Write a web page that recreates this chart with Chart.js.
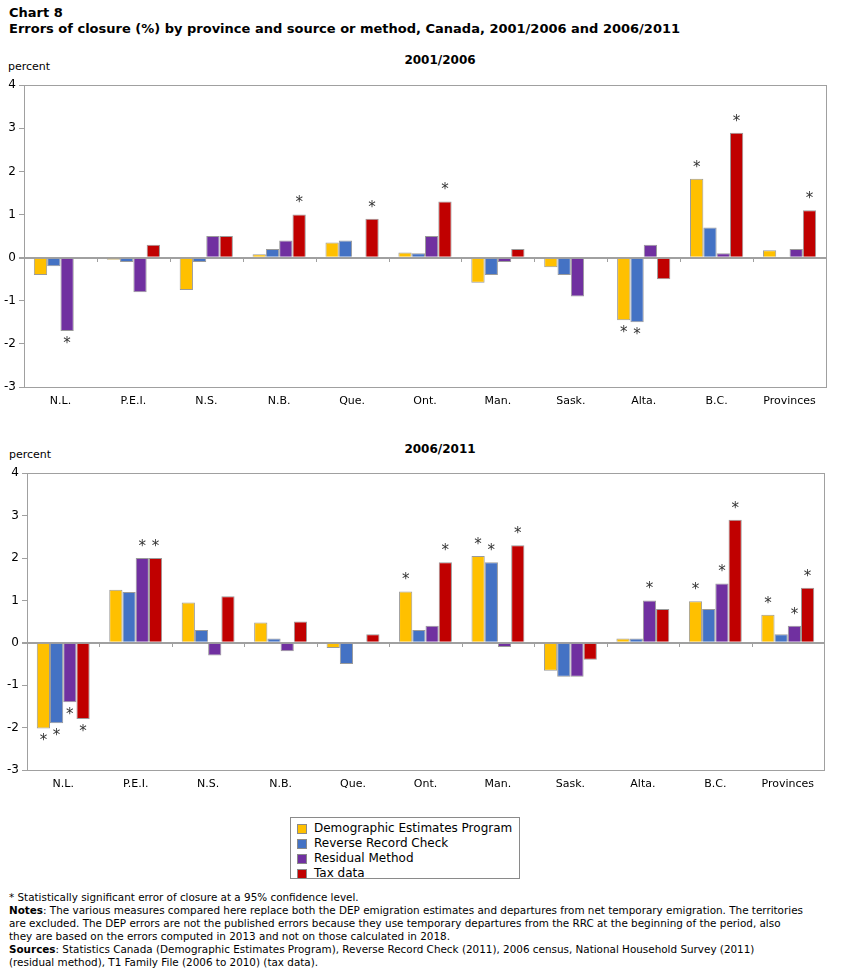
<!DOCTYPE html>
<html>
<head>
<meta charset="utf-8">
<script src="https://cdn.jsdelivr.net/npm/chart.js@4.4.1/dist/chart.umd.min.js"></script>
<style>
  html, body { margin:0; padding:0; background:#fff; }
  body { width:842px; height:968px; position:relative; overflow:hidden; font-family:"DejaVu Sans", Verdana, sans-serif; color:#000; }
  .abs { position:absolute; white-space:nowrap; }
  #title { left:9px; top:5px; font-family:"DejaVu Sans",sans-serif; font-weight:bold; font-size:13px; line-height:16px; }
  .sub { font-weight:bold; font-size:12px; font-family:"DejaVu Sans",sans-serif; transform:translateX(-50%); }
  .pct { font-size:11px; }
  #legend { left:290px; top:817px; width:230px; height:62px; border:1px solid #8a8a8a; box-sizing:border-box; padding:3px 0 0 6px; font-size:12px; }
  #legend .item { height:15px; line-height:15px; display:flex; align-items:center; }
  #legend .sw { width:10px; height:10px; border:1px solid #8a8a8a; box-sizing:border-box; margin-right:7px; }
  #notes { left:9px; top:891px; font-family:"DejaVu Sans", sans-serif; font-size:10.4px; line-height:13px; }
</style>
</head>
<body>
<div id="title" class="abs">Chart 8<br>Errors of closure (%) by province and source or method, Canada, 2001/2006 and 2006/2011</div>
<div class="abs sub" style="left:440px; top:53px;">2001/2006</div>
<div class="abs pct" style="left:8px; top:60px;">percent</div>
<div class="abs" style="left:0; top:75px; width:842px; height:340px;"><canvas id="c1"></canvas></div>
<div class="abs sub" style="left:440px; top:442px;">2006/2011</div>
<div class="abs pct" style="left:9px; top:448px;">percent</div>
<div class="abs" style="left:0; top:463px; width:842px; height:335px;"><canvas id="c2"></canvas></div>
<div id="legend" class="abs"></div>
<div id="notes" class="abs">* Statistically significant error of closure at a 95% confidence level.<br><b>Notes</b>: The various measures compared here replace both the DEP emigration estimates and departures from net temporary emigration. The territories<br>are excluded. The DEP errors are not the published errors because they use temporary departures from the RRC at the beginning of the period, also<br>they are based on the errors computed in 2013 and not on those calculated in 2018.<br><b>Sources</b>: Statistics Canada (Demographic Estimates Program), Reverse Record Check (2011), 2006 census, National Household Survey (2011)<br>(residual method), T1 Family File (2006 to 2010) (tax data).</div>
<script>
const categories = ['N.L.','P.E.I.','N.S.','N.B.','Que.','Ont.','Man.','Sask.','Alta.','B.C.','Provinces'];
const seriesNames = ['Demographic Estimates Program','Reverse Record Check','Residual Method','Tax data'];
const seriesColors = ['#FFC000','#4472C4','#7030A0','#C00000'];
const yTicks = [-3,-2,-1,0,1,2,3,4];

// 2001/2006
const dep1 = [-0.4, -0.05, -0.75, 0.08, 0.35, 0.12, -0.58, -0.22, -1.45, 1.83, 0.17];
const rrc1 = [-0.2, -0.1, -0.1, 0.2, 0.4, 0.1, -0.4, -0.4, -1.5, 0.7, null];
const res1 = [-1.7, -0.8, 0.5, 0.4, null, 0.5, -0.1, -0.9, 0.3, 0.1, 0.2];
const tax1 = [null, 0.3, 0.5, 1.0, 0.9, 1.3, 0.2, null, -0.5, 2.9, 1.1];
const depSig1 = [0,0,0,0,0,0,0,0,1,1,0];
const rrcSig1 = [0,0,0,0,0,0,0,0,1,0,0];
const resSig1 = [1,0,0,0,0,0,0,0,0,0,0];
const taxSig1 = [0,0,0,1,1,1,0,0,0,1,1];

// 2006/2011
const dep2 = [-2.02, 1.25, 0.95, 0.48, -0.12, 1.21, 2.05, -0.66, 0.1, 0.98, 0.66];
const rrc2 = [-1.9, 1.2, 0.3, 0.1, -0.5, 0.3, 1.9, -0.8, 0.1, 0.8, 0.2];
const res2 = [-1.4, 2.0, -0.3, -0.2, null, 0.4, -0.1, -0.8, 1.0, 1.4, 0.4];
const tax2 = [-1.8, 2.0, 1.1, 0.5, 0.2, 1.9, 2.3, -0.4, 0.8, 2.9, 1.3];
const depSig2 = [1,0,0,0,0,1,1,0,0,1,1];
const rrcSig2 = [1,0,0,0,0,0,1,0,0,0,0];
const resSig2 = [1,1,0,0,0,0,0,0,1,1,1];
const taxSig2 = [1,1,0,0,0,1,1,0,0,1,1];

// legend
const lg = document.getElementById('legend');
seriesNames.forEach((n,i)=>{
  const d = document.createElement('div'); d.className='item';
  d.innerHTML = '<span class="sw" style="background:'+seriesColors[i]+'"></span><span>'+n+'</span>';
  lg.appendChild(d);
});

const GREY = '#a0a0a0';
const framePlugin = {
  id:'frame',
  afterDraw(chart){
    const {ctx, chartArea:a, scales} = chart;
    ctx.save();
    ctx.strokeStyle = GREY; ctx.lineWidth = 1;
    ctx.strokeRect(Math.round(a.left)+0.5, Math.round(a.top)+0.5, Math.round(a.right-a.left), Math.round(a.bottom-a.top));
    const x = scales.x, y0 = Math.round(scales.y.getPixelForValue(0));
    for (let i=1;i<categories.length;i++){
      const px = Math.round((x.getPixelForTick(i-1)+x.getPixelForTick(i))/2)+0.5;
      ctx.beginPath(); ctx.moveTo(px, y0); ctx.lineTo(px, y0+4); ctx.stroke();
    }
    ctx.restore();
  }
};
const starPlugin = {
  id:'stars',
  afterDatasetsDraw(chart){
    const {ctx} = chart;
    ctx.save();
    ctx.fillStyle = '#333';
    ctx.font = '15px "DejaVu Sans", sans-serif';
    ctx.textAlign = 'center';
    ctx.textBaseline = 'middle';
    chart.data.datasets.forEach((ds, di)=>{
      const meta = chart.getDatasetMeta(di);
      ds.sig.forEach((s,i)=>{
        if (!s || ds.data[i] == null) return;
        const el = meta.data[i];
        const v = ds.data[i];
        const yy = v >= 0 ? el.y - 11 : el.y + 13;
        ctx.fillText('*', el.x, yy);
      });
    });
    ctx.restore();
  }
};

function makeChart(id, series, sigs, yWidth, padRight){
  return new Chart(document.getElementById(id), {
    type:'bar',
    data:{
      labels: categories,
      datasets: series.map((d,i)=>({
        label: seriesNames[i], data: d, sig: sigs[i],
        backgroundColor: seriesColors[i], borderColor:'#9a9a9a', borderWidth:1,
        categoryPercentage:0.73, barPercentage:1.0
      }))
    },
    options:{
      responsive:true, maintainAspectRatio:false, animation:false,
      layout:{padding:{left:0, right:padRight, top:8, bottom:0}},
      plugins:{legend:{display:false}, tooltip:{enabled:false}},
      scales:{
        x:{
          grid:{display:false, drawTicks:false},
          border:{display:false},
          ticks:{color:'#000', font:{family:'"DejaVu Sans", sans-serif', size:11}, padding:8, maxRotation:0, autoSkip:false},
          afterFit(s){ s.height = 28; }
        },
        y:{
          min:-3, max:4,
          afterBuildTicks(s){ s.ticks = yTicks.map(v=>({value:v})); },
          grid:{
            color:(c)=> c.tick && c.tick.value===0 ? GREY : 'rgba(0,0,0,0)',
            lineWidth:(c)=> c.tick && c.tick.value===0 ? 2 : 1,
            tickColor: GREY, tickLength:5, drawTicks:true
          },
          border:{display:true, color:GREY},
          ticks:{color:'#000', font:{family:'"DejaVu Sans", sans-serif', size:12}, padding:3},
          afterFit(s){ s.width = yWidth; }
        }
      }
    },
    plugins:[framePlugin, starPlugin]
  });
}

makeChart('c1', [dep1,rrc1,res1,tax1], [depSig1,rrcSig1,resSig1,taxSig1], 24, 16);
makeChart('c2', [dep2,rrc2,res2,tax2], [depSig2,rrcSig2,resSig2,taxSig2], 27, 18);
</script>
</body>
</html>
